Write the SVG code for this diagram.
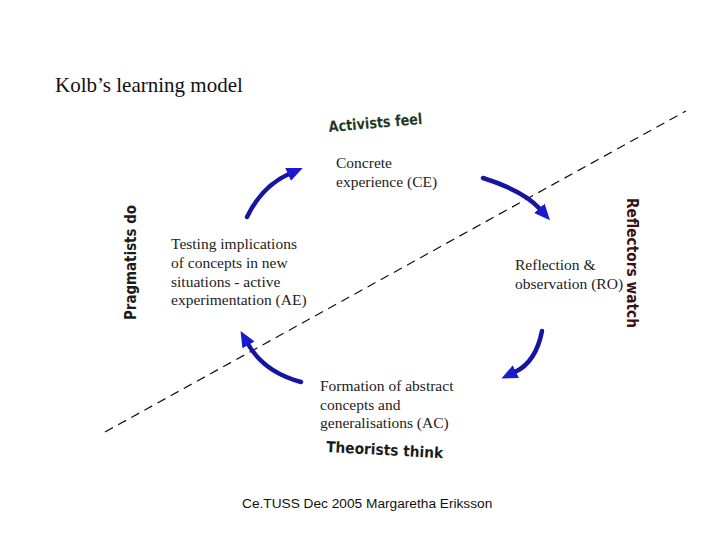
<svg xmlns="http://www.w3.org/2000/svg" width="720" height="540" viewBox="0 0 720 540">
<style>
.t{font-family:"Liberation Serif","Times New Roman",serif;font-size:15.5px;fill:#222}
.c{font-family:"DejaVu Sans","Comic Sans MS",sans-serif;font-weight:bold;font-size:15px}
.a{fill:none;stroke:#1515a0;stroke-width:4.5;stroke-linecap:round;marker-end:url(#h)}
</style>
<defs>
<marker id="h" markerUnits="userSpaceOnUse" markerWidth="18" markerHeight="16" refX="1" refY="7" orient="auto">
<path d="M0,0 L16,7 L0,14 z" fill="#1a1ad0"/>
</marker>
</defs>
<rect width="720" height="540" fill="#ffffff"/>
<text x="55" y="92" font-family="Liberation Serif,serif" font-size="21" fill="#111">Kolb’s learning model</text>
<g id="connectors">
<line x1="105" y1="432" x2="686" y2="111" stroke="#111" stroke-width="1.2" stroke-dasharray="9,6"/>
<path class="a" d="M247,217 Q262,186 289,174"/>
<path class="a" d="M483,178 Q524,191 540,209"/>
<path class="a" d="M542,331 Q536,362 515,372"/>
<path class="a" d="M301,382 Q264,372 248,344"/>
</g>
<g id="ce"><text class="t" x="336" y="168">Concrete</text><text class="t" x="336" y="187">experience (CE)</text></g>
<g id="ae"><text class="t" x="171" y="249">Testing implications</text><text class="t" x="171" y="268">of concepts in new</text><text class="t" x="171" y="287">situations - active</text><text class="t" x="171" y="305">experimentation (AE)</text></g>
<g id="ro"><text class="t" x="515" y="270">Reflection &amp;</text><text class="t" x="515" y="289">observation (RO)</text></g>
<g id="ac"><text class="t" x="320" y="391">Formation of abstract</text><text class="t" x="320" y="410">concepts and</text><text class="t" x="320" y="428">generalisations (AC)</text></g>
<g id="activists"><text class="c" x="329" y="132" fill="#1f3a1f" transform="rotate(-5 329 132)" textLength="94" lengthAdjust="spacingAndGlyphs">Activists feel</text></g>
<g id="pragmatists"><text class="c" x="0" y="0" fill="#1c1c1c" transform="translate(136 320) rotate(-90)" textLength="115" lengthAdjust="spacingAndGlyphs">Pragmatists do</text></g>
<g id="reflectors"><text class="c" x="0" y="0" fill="#3a1212" transform="translate(627 198) rotate(90)" textLength="130" lengthAdjust="spacingAndGlyphs">Reflectors watch</text></g>
<g id="theorists"><text class="c" x="326" y="452" fill="#1c1c1c" transform="rotate(3 326 452)" textLength="117" lengthAdjust="spacingAndGlyphs">Theorists think</text></g>
<text x="242" y="508" font-family="Liberation Sans,Arial,sans-serif" font-size="13.7" fill="#111">Ce.TUSS Dec 2005 Margaretha Eriksson</text>
</svg>
